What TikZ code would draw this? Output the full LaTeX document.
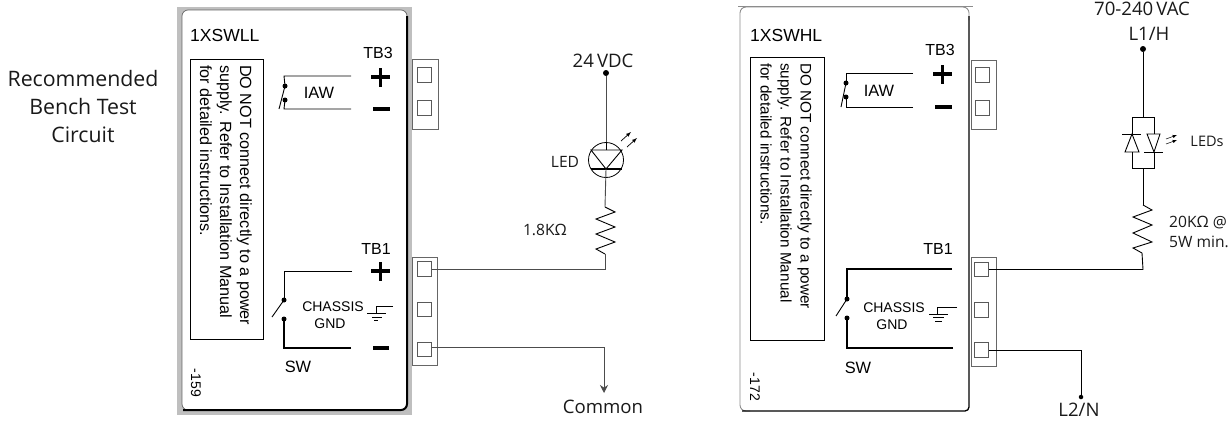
\documentclass[tikz,border=0pt]{standalone}
\usepackage{fontspec}
\setmainfont{Liberation Sans}
\newfontfamily\labelfont{Open Sans}
\usetikzlibrary{calc, positioning, arrows.meta}
\tikzset{
  wire/.style={line width=0.9pt, black!70},
  inwire/.style={line width=0.9pt, black},
  heavy/.style={line width=1.3pt, black},
  cardbox/.style={line width=0.7pt, black!60},
  blocksq/.style={draw=black!65, line width=0.8pt, fill=white, minimum size=14.5pt, inner sep=0pt},
  dotnode/.style={circle, fill=black, minimum size=6pt, inner sep=0pt},
  tinydot/.style={circle, fill=black, minimum size=5pt, inner sep=0pt},
  cardtxt/.style={inner sep=0pt, font=\fontsize{16}{18}\selectfont},
  smalltxt/.style={inner sep=0pt, font=\fontsize{14}{16}\selectfont},
  iawtxt/.style={inner sep=0pt, font=\fontsize{16.4}{18}\selectfont},
  labeltxt/.style={inner sep=0pt, text=black!90, font=\labelfont\fontsize{18.6}{22}\selectfont},
  minilabel/.style={inner sep=0pt, text=black!90, font=\labelfont\fontsize{15.6}{18}\selectfont},
  warntxt/.style={inner sep=0pt, rotate=-90, align=left, anchor=north west},
}
\begin{document}
\begin{tikzpicture}[x=1pt, y=-1pt]
  \useasboundingbox (0, 0) rectangle (1231, 421);
  \node[inner sep=0pt, align=center, text=black!90, font=\labelfont\fontsize{21.3}{28}\selectfont] (title) at (83, 107)
    {Recommended\\Bench Test\\Circuit};

  \fill[black!25] (177, 7) rectangle (412, 415);
  \draw[cardbox, fill=white, rounded corners=6pt] (182, 10) rectangle (407, 410);
  \draw[line width=2pt, rounded corners=6pt] (407, 16) -- (407, 410) -- (183, 410);
  \draw[line width=0.9pt] (190, 59) rectangle (263, 339);
  \node[cardtxt, font=\fontsize{17.5}{20}\selectfont, anchor=west] (nameL) at (190, 35) {1XSWLL};
  \node[warntxt, font=\fontsize{16.2}{20}\selectfont] (warnL) at (252, 65) {DO NOT connect directly to a power\\supply. Refer to Installation Manual\\for detailed instructions.};
  \node[cardtxt] (tbtreL) at (378, 53) {TB3};
  \node[cardtxt] (tbunoL) at (376, 249) {TB1};
  \node[iawtxt] (iawL) at (319, 93) {IAW};
  \node[smalltxt] (chassisL) at (333, 307) {CHASSIS};
  \node[smalltxt] (gndL) at (330, 324) {GND};
  \node[iawtxt] (swL) at (298, 367) {SW};
  \node[smalltxt, rotate=-90] (codeL) at (196, 383) {-159};

  \draw[line width=3.5pt] (371, 77) -- (390, 77) (380.5, 68) -- (380.5, 87);
  \draw[line width=3.6pt] (373, 109) -- (390, 109);
  \draw[line width=3.5pt] (371, 271) -- (390, 271) (380.5, 262) -- (380.5, 281);
  \draw[line width=3.6pt] (373, 348) -- (389, 348);

  \node[tinydot] (iawLa) at (285, 86) {};
  \node[tinydot] (iawLb) at (285, 100) {};
  \draw[inwire] (351, 76) -- (284, 76) -- (iawLa.center);
  \draw[inwire] (351, 109) -- (284, 109) -- (iawLb.center);
  \draw[inwire] (279, 109) -- (iawLa.center);

  \node[tinydot] (swLa) at (284, 300) {};
  \node[tinydot] (swLb) at (284, 319) {};
  \draw[inwire] (352, 271) -- (284, 271) -- (swLa.center);
  \draw[heavy] (351, 348) -- (284, 348) -- (swLb.center);
  \draw[inwire] (272, 317) -- (swLa.center);
  \draw[inwire] (393, 306) -- (376, 306) -- (376, 313);
  \draw[inwire] (367, 313) -- (386, 313) (372, 317) -- (382, 317) (374, 320.5) -- (378, 320.5);

  \draw[cardbox, fill=white] (412, 59) rectangle (438, 129);
  \node[blocksq] (tbaL) at (424.5, 75) {};
  \node[blocksq] (tbbL) at (424.5, 108) {};
  \draw[cardbox, fill=white] (412, 257) rectangle (437.5, 365);
  \node[blocksq] (plusL) at (424.5, 269) {};
  \node[blocksq] (midL) at (424.5, 309.5) {};
  \node[blocksq] (minusL) at (424.5, 349.5) {};

  \node[dotnode] (vdc) at (606, 73) {};
  \node[labeltxt] (vdctxt) at (603, 61) {24\,VDC};
  \node[circle, draw, line width=0.8pt, minimum size=35pt, inner sep=0pt] (led) at (606, 160) {};
  \node[minilabel] (ledtxt) at (565, 162) {LED};
  \node[minilabel, anchor=east] (rtxtL) at (567, 230) {1.8KΩ};
  \coordinate (rtopL) at (605, 207);
  \coordinate (rbotL) at (605, 254);
  \coordinate (cornerL) at (605, 269);
  \draw[wire] (vdc) -- (led.north);
  \draw[inwire] (606, 150) -- (led.north);
  \draw[inwire] (591, 150) -- (622, 150) -- (606, 169) -- cycle;
  \draw[line width=1.6pt] (591, 169) -- (622, 169);
  \draw[wire] (606, 169) -- (rtopL);
  \draw[inwire] (rtopL) -- (615, 212) -- (596, 219) -- (615, 227) -- (596, 234) -- (615, 242) -- (596, 249) -- (rbotL);
  \draw[wire] (rbotL) -- (cornerL) -- (plusL.east);
  \draw[-latex, line width=0.7pt] (621, 141) -- (631, 132);
  \draw[-latex, line width=0.7pt] (627, 147) -- (637, 138);

  \coordinate (cornerC) at (604, 347);
  \coordinate (arrowC) at (604, 393);
  \node[labeltxt] (commontxt) at (603, 407) {Common};
  \draw[wire] (minusL.east |- cornerC) -- (cornerC);
  \draw[wire, -{Stealth[length=8pt, width=8pt]}] (cornerC) -- (arrowC);

  \draw[black!45, line width=0.9pt] (738, 6) -- (973, 6);
  \draw[black!45, line width=0.9pt, rounded corners=6pt] (969, 20) -- (969, 7) -- (740, 7) -- (740, 411) -- (750, 411);
  \draw[line width=1.3pt, rounded corners=4pt] (969, 16) -- (969, 411) -- (742, 411);
  \draw[line width=0.9pt] (750, 57) rectangle (824, 340);
  \node[cardtxt, font=\fontsize{17.5}{20}\selectfont, anchor=west] (nameH) at (750, 35) {1XSWHL};
  \node[warntxt, font=\fontsize{15.3}{20}\selectfont] (warnH) at (812, 63) {DO NOT connect directly to a power\\supply. Refer to Installation Manual\\for detailed instructions.};
  \node[cardtxt] (tbtreH) at (940, 50) {TB3};
  \node[cardtxt] (tbunoH) at (938, 249) {TB1};
  \node[iawtxt] (iawH) at (879, 91) {IAW};
  \node[smalltxt] (chassisH) at (894, 308) {CHASSIS};
  \node[smalltxt] (gndH) at (892, 325) {GND};
  \node[iawtxt] (swH) at (858, 368) {SW};
  \node[smalltxt, rotate=-90] (codeH) at (755, 387) {-172};

  \draw[line width=3.5pt] (933, 74) -- (952, 74) (942.5, 65) -- (942.5, 84);
  \draw[line width=3.6pt] (935, 107) -- (952, 107);

  \node[tinydot] (iawHa) at (846, 83) {};
  \node[tinydot] (iawHb) at (846, 97) {};
  \draw[inwire] (913, 73) -- (846, 73) -- (iawHa.center);
  \draw[inwire] (913, 107) -- (846, 107) -- (iawHb.center);
  \draw[inwire] (841, 107) -- (iawHa.center);

  \node[tinydot] (swHa) at (847, 299) {};
  \node[tinydot] (swHb) at (847, 318) {};
  \draw[heavy] (952, 269) -- (847, 269) -- (swHa.center);
  \draw[heavy] (953, 348) -- (847, 348) -- (swHb.center);
  \draw[inwire] (836, 316) -- (swHa.center);
  \draw[inwire] (957, 307) -- (937, 307) -- (937, 314);
  \draw[inwire] (929, 314) -- (948, 314) (933, 317.5) -- (944, 317.5) (935, 321) -- (942, 321);

  \draw[cardbox, fill=white] (971, 60) rectangle (996, 129);
  \node[blocksq] (tbaH) at (982.5, 75) {};
  \node[blocksq] (tbbH) at (982.5, 108) {};
  \draw[cardbox, fill=white] (971, 257) rectangle (996, 366);
  \node[blocksq] (plusH) at (981.5, 269.5) {};
  \node[blocksq] (midH) at (981.5, 310) {};
  \node[blocksq] (minusH) at (981.5, 350) {};

  \node[dotnode] (vac) at (1143, 49) {};
  \node[labeltxt] (vactxt) at (1142, 9) {70-240\,VAC};
  \node[labeltxt] (hottxt) at (1149, 34) {L1/H};
  \node[minilabel, font=\labelfont\fontsize{14.5}{18}\selectfont] (ledstxt) at (1207, 141) {LEDs};
  \node[minilabel, anchor=west] (rtxtH) at (1169, 223) {20KΩ @};
  \node[minilabel, anchor=west] (wtxtH) at (1169, 242) {5W min.};
  \coordinate (ptop) at (1143, 117);
  \coordinate (pbot) at (1143, 168);
  \coordinate (rtopH) at (1143, 205);
  \coordinate (rbotH) at (1142, 253);
  \coordinate (cornerH) at (1143, 269.5);
  \draw[inwire] (vac) -- (ptop);
  \draw[inwire] (1132, 134) -- (1132, 117) -- (1154, 117) -- (1154, 134);
  \draw[inwire] (1132, 152) -- (1132, 168) -- (1154, 168) -- (1154, 152);
  \draw[inwire] (1125, 152) -- (1139, 152) -- (1132, 134) -- cycle;
  \draw[inwire] (1147, 134) -- (1160, 134) -- (1154, 152) -- cycle;
  \draw[inwire] (1122, 134) -- (1141, 134) (1144, 152) -- (1163, 152);
  \draw[inwire] (pbot) -- (rtopH);
  \draw[inwire] (rtopH) -- (1152, 210) -- (1133, 217) -- (1152, 225) -- (1133, 233) -- (1152, 242) -- (1133, 248) -- (rbotH);
  \draw[inwire] (rbotH) -- (cornerH) -- (plusH.east);
  \draw[-latex, line width=0.5pt] (1166, 139) -- (1177, 135);
  \draw[-latex, line width=0.5pt] (1166, 144) -- (1177, 140);

  \node[tinydot, minimum size=4.5pt] (neutral) at (1081, 397) {};
  \node[labeltxt] (neutraltxt) at (1079, 410) {L2/N};
  \coordinate (cornerN) at (1081, 350);
  \draw[inwire] (minusH.east) -- (cornerN) -- (neutral);
\end{tikzpicture}
\end{document}
